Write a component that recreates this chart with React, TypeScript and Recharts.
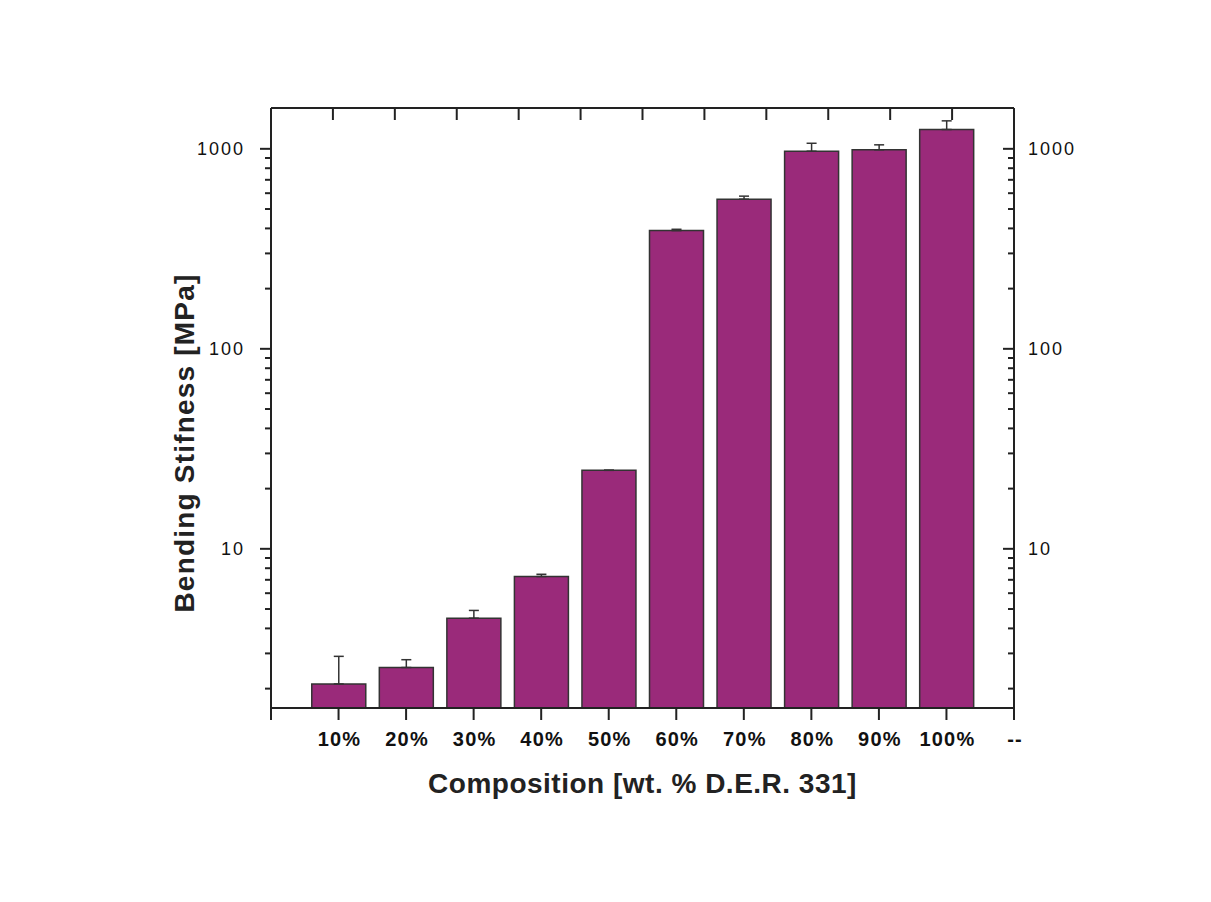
import React from "react";
import { BarChart, Bar, XAxis, YAxis, ErrorBar, Label } from "recharts";

const categories = ["10%", "20%", "30%", "40%", "50%", "60%", "70%", "80%", "90%", "100%"];
const stiffness = [2.11, 2.55, 4.5, 7.27, 24.7, 390, 560, 973, 989, 1249];
const upperError = [0.79, 0.24, 0.42, 0.19, 0, 6, 20, 93, 58, 131];
const bottomTickLabels = ["", ...categories, "--"];
const bottomTicks = [0, 1, 2, 3, 4, 5, 6, 7, 8, 9, 10, 11];
const topTicks = [0, 1, 2, 3, 4, 5, 6, 7, 8, 9, 10, 11, 12];
const logTicks = [2, 3, 4, 5, 6, 7, 8, 9, 10, 20, 30, 40, 50, 60, 70, 80, 90, 100, 200, 300, 400, 500, 600, 700, 800, 900, 1000];
const yDomain = [1.6, 1600];

const data = categories.map((c, i) => ({
  x: i + 1,
  xt: ((i + 1) * 12) / 11,
  name: c,
  value: stiffness[i],
  err: [0, upperError[i]],
}));

const AXIS = "#222";
const FONT = "'Liberation Sans', Arial, sans-serif";

const isMajor = (v: number) => Math.abs(Math.log10(v) - Math.round(Math.log10(v))) < 1e-9;

const LeftTick = (props: any) => {
  const { x, y, payload } = props;
  const major = isMajor(payload.value);
  return (
    <g>
      <line x1={x} x2={x - (major ? 11 : 6)} y1={y} y2={y} stroke={AXIS} strokeWidth={2} />
      {major && (
        <text x={x - 26} y={y + 6.5} textAnchor="end" fontFamily={FONT} fontSize={18} letterSpacing={2} fill="#111">
          {payload.value}
        </text>
      )}
    </g>
  );
};

const RightTick = (props: any) => {
  const { x, y, payload } = props;
  const major = isMajor(payload.value);
  return (
    <g>
      <line x1={x} x2={x - (major ? 11 : 6)} y1={y} y2={y} stroke={AXIS} strokeWidth={2} />
      {major && (
        <text x={x + 14} y={y + 6.5} textAnchor="start" fontFamily={FONT} fontSize={18} letterSpacing={2} fill="#111">
          {payload.value}
        </text>
      )}
    </g>
  );
};

const BottomTick = (props: any) => {
  const { x, y, payload } = props;
  const label = bottomTickLabels[payload.value] ?? "";
  return (
    <g>
      <line x1={x} x2={x} y1={y} y2={y + 12} stroke={AXIS} strokeWidth={2} />
      <text x={x + 1} y={y + 38} textAnchor="middle" fontFamily={FONT} fontWeight="bold" fontSize={20} letterSpacing={1.2} fill="#111">
        {label}
      </text>
    </g>
  );
};

const TopTick = (props: any) => {
  const { x, y } = props;
  return <line x1={x} x2={x} y1={y} y2={y + 12} stroke={AXIS} strokeWidth={2} />;
};

export default function App() {
  return (
    <div style={{ position: "absolute", left: 0, top: 0, background: "#fff" }}>
      <BarChart width={1211} height={902} data={data} margin={{ top: 0, right: 0, bottom: 0, left: 0 }}>
        <XAxis
          xAxisId="bottom"
          dataKey="x"
          type="number"
          domain={[0, 11]}
          allowDataOverflow
          ticks={bottomTicks}
          interval={0}
          height={194}
          axisLine={{ stroke: AXIS, strokeWidth: 2 }}
          tickLine={false}
          tickSize={0}
          tickMargin={0}
          tick={<BottomTick />}
        >
          <Label
            content={(p: any) => {
              const vb = p.viewBox;
              return (
                <text x={vb.x + vb.width / 2} y={vb.y + 85} textAnchor="middle" fontFamily={FONT} fontWeight="bold" fontSize={28} letterSpacing={0.5} fill="#222">
                  Composition [wt. % D.E.R. 331]
                </text>
              );
            }}
          />
        </XAxis>
        <XAxis
          xAxisId="top"
          dataKey="xt"
          orientation="top"
          type="number"
          domain={[0, 12]}
          ticks={topTicks}
          interval={0}
          height={108}
          axisLine={{ stroke: AXIS, strokeWidth: 2 }}
          tickLine={false}
          tickSize={0}
          tickMargin={0}
          tick={<TopTick />}
          allowDataOverflow
        />
        <YAxis
          yAxisId="left"
          scale="log"
          type="number"
          domain={yDomain}
          allowDataOverflow
          ticks={logTicks}
          interval={0}
          width={271}
          axisLine={{ stroke: AXIS, strokeWidth: 2 }}
          tickLine={false}
          tickSize={0}
          tickMargin={0}
          tick={<LeftTick />}
        >
          <Label
            content={(p: any) => {
              const vb = p.viewBox;
              const cx = 194;
              const cy = vb.y + vb.height / 2 + 35;
              return (
                <text x={cx} y={cy} transform={`rotate(-90 ${cx} ${cy})`} textAnchor="middle" fontFamily={FONT} fontWeight="bold" fontSize={28} letterSpacing={1.2} fill="#222">
                  Bending Stifness [MPa]
                </text>
              );
            }}
          />
        </YAxis>
        <YAxis
          yAxisId="right"
          orientation="right"
          scale="log"
          type="number"
          domain={yDomain}
          allowDataOverflow
          ticks={logTicks}
          interval={0}
          width={197}
          axisLine={{ stroke: AXIS, strokeWidth: 2 }}
          tickLine={false}
          tickSize={0}
          tickMargin={0}
          tick={<RightTick />}
        />
        <Bar
          dataKey="value"
          xAxisId="bottom"
          yAxisId="left"
          barSize={54}
          fill="#9a2a7a"
          stroke="#333"
          strokeWidth={1.5}
          isAnimationActive={false}
        >
          <ErrorBar dataKey="err" direction="y" width={5} stroke="#333" strokeWidth={1.5} />
        </Bar>
      </BarChart>
    </div>
  );
}
